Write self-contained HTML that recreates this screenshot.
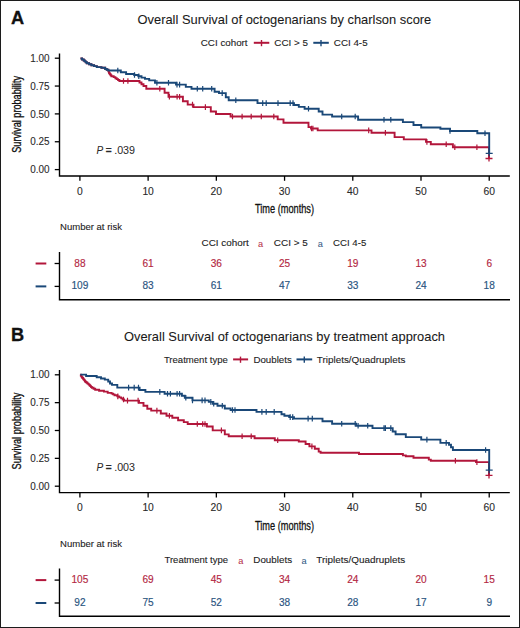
<!DOCTYPE html>
<html><head><meta charset="utf-8"><title>Overall Survival of octogenarians</title>
<style>
html,body{margin:0;padding:0;background:#fff;}
body{width:520px;height:628px;overflow:hidden;}
svg{display:block;font-family:"Liberation Sans", sans-serif;}
</style></head><body>
<svg width="520" height="628" viewBox="0 0 520 628">
<rect x="0" y="0" width="520" height="628" fill="#fff"/>
<text x="11" y="24.4" font-size="18.2" text-anchor="start" fill="#111" font-weight="bold" stroke="#111" stroke-width="0.3">A</text>
<text x="137.5" y="24.3" font-size="13.2" text-anchor="start" fill="#1a1a1a"  textLength="293.8" lengthAdjust="spacingAndGlyphs" stroke="#1a1a1a" stroke-width="0.08">Overall Survival of octogenarians by charlson score</text>
<text x="200.8" y="46.2" font-size="9.4" text-anchor="start" fill="#222"  textLength="46.8" lengthAdjust="spacingAndGlyphs" stroke="#222" stroke-width="0.1">CCI cohort</text>
<path d="M253.8 42.8 H269.3" stroke="#B2163B" stroke-width="2"/>
<path d="M261.5 40 V46.2" stroke="#B2163B" stroke-width="1.4"/>
<text x="274.3" y="46.2" font-size="9.4" text-anchor="start" fill="#222"  textLength="33.8" lengthAdjust="spacingAndGlyphs" stroke="#222" stroke-width="0.1">CCI &gt; 5</text>
<path d="M313.3 42.8 H328.8" stroke="#1A4878" stroke-width="2"/>
<path d="M321 40 V46.2" stroke="#1A4878" stroke-width="1.4"/>
<text x="333.8" y="46.2" font-size="9.4" text-anchor="start" fill="#222"  textLength="33.8" lengthAdjust="spacingAndGlyphs" stroke="#222" stroke-width="0.1">CCI 4-5</text>
<path d="M59.5 53.4 V176 H509.8" stroke="#000" stroke-width="1.4" fill="none"/>
<path d="M54.8 58.2 H59.5" stroke="#000" stroke-width="1.3"/>
<text x="49.5" y="61.8" font-size="10.0" text-anchor="end" fill="#2a2a2a"  textLength="19.3" lengthAdjust="spacingAndGlyphs" stroke="#2a2a2a" stroke-width="0.1">1.00</text>
<path d="M54.8 86.05 H59.5" stroke="#000" stroke-width="1.3"/>
<text x="49.5" y="89.65" font-size="10.0" text-anchor="end" fill="#2a2a2a"  textLength="19.3" lengthAdjust="spacingAndGlyphs" stroke="#2a2a2a" stroke-width="0.1">0.75</text>
<path d="M54.8 113.9 H59.5" stroke="#000" stroke-width="1.3"/>
<text x="49.5" y="117.5" font-size="10.0" text-anchor="end" fill="#2a2a2a"  textLength="19.3" lengthAdjust="spacingAndGlyphs" stroke="#2a2a2a" stroke-width="0.1">0.50</text>
<path d="M54.8 141.75 H59.5" stroke="#000" stroke-width="1.3"/>
<text x="49.5" y="145.35" font-size="10.0" text-anchor="end" fill="#2a2a2a"  textLength="19.3" lengthAdjust="spacingAndGlyphs" stroke="#2a2a2a" stroke-width="0.1">0.25</text>
<path d="M54.8 169.6 H59.5" stroke="#000" stroke-width="1.3"/>
<text x="49.5" y="173.2" font-size="10.0" text-anchor="end" fill="#2a2a2a"  textLength="19.3" lengthAdjust="spacingAndGlyphs" stroke="#2a2a2a" stroke-width="0.1">0.00</text>
<path d="M79.9 176 V180.8" stroke="#000" stroke-width="1.3"/>
<text transform="translate(79.9 194.7) scale(1.03 1)" x="0" y="0" font-size="10.0" text-anchor="middle" fill="#2a2a2a" stroke="#2a2a2a" stroke-width="0.1">0</text>
<path d="M148.12 176 V180.8" stroke="#000" stroke-width="1.3"/>
<text transform="translate(148.12 194.7) scale(1.03 1)" x="0" y="0" font-size="10.0" text-anchor="middle" fill="#2a2a2a" stroke="#2a2a2a" stroke-width="0.1">10</text>
<path d="M216.34 176 V180.8" stroke="#000" stroke-width="1.3"/>
<text transform="translate(216.34 194.7) scale(1.03 1)" x="0" y="0" font-size="10.0" text-anchor="middle" fill="#2a2a2a" stroke="#2a2a2a" stroke-width="0.1">20</text>
<path d="M284.56 176 V180.8" stroke="#000" stroke-width="1.3"/>
<text transform="translate(284.56 194.7) scale(1.03 1)" x="0" y="0" font-size="10.0" text-anchor="middle" fill="#2a2a2a" stroke="#2a2a2a" stroke-width="0.1">30</text>
<path d="M352.78 176 V180.8" stroke="#000" stroke-width="1.3"/>
<text transform="translate(352.78 194.7) scale(1.03 1)" x="0" y="0" font-size="10.0" text-anchor="middle" fill="#2a2a2a" stroke="#2a2a2a" stroke-width="0.1">40</text>
<path d="M421 176 V180.8" stroke="#000" stroke-width="1.3"/>
<text transform="translate(421 194.7) scale(1.03 1)" x="0" y="0" font-size="10.0" text-anchor="middle" fill="#2a2a2a" stroke="#2a2a2a" stroke-width="0.1">50</text>
<path d="M489.22 176 V180.8" stroke="#000" stroke-width="1.3"/>
<text transform="translate(489.22 194.7) scale(1.03 1)" x="0" y="0" font-size="10.0" text-anchor="middle" fill="#2a2a2a" stroke="#2a2a2a" stroke-width="0.1">60</text>
<text x="0" y="0" transform="translate(21.0 114.4) rotate(-90)" font-size="12.2" text-anchor="middle" fill="#111" stroke="#111" stroke-width="0.3" textLength="76.8" lengthAdjust="spacingAndGlyphs">Survival probability</text>
<text x="284.5" y="213" font-size="12.8" text-anchor="middle" fill="#111" stroke="#111" stroke-width="0.3" textLength="59" lengthAdjust="spacingAndGlyphs">Time (months)</text>
<text x="96.6" y="154.2" font-size="10.0" fill="#2a2a2a" stroke="#2a2a2a" stroke-width="0.05"><tspan font-style="italic">P</tspan><tspan dx="2.6" stroke-width="0.45">=</tspan><tspan dx="2.5" font-size="10.7">.039</tspan></text>
<path d="M80.5 58.5 H82.1 V59.5 H83.7 V60.5 H84.73 V61.4 H85.77 V62.3 H86.8 V63.2 H89.1 V64.2 H91.4 V65.2 H94.1 V66.15 H96.8 V67.1 H101.4 V67.8 H105.2 V69 H106.75 V69.75 H108.3 V70.5 H108.57 V71.4 H108.83 V72.3 H109.1 V73.2 H109.87 V74.23 H110.63 V75.27 H111.4 V76.3 H113.7 V77.1 H115.4 V78.2 H116.73 V79.13 H118.07 V80.07 H119.4 V81 H139.5 V82.5 H141.5 V84.2 H143.5 V86 H146.3 V88.8 H164.6 V92.7 H168.5 V96.7 H182.9 V101.3 H187.7 V104.6 H193.5 V107.1 H210.8 V111.5 H216 V114 H230.6 V116.5 H277.7 V119.4 H283.5 V122.7 H308.5 V127.1 H311 V128.5 H317.7 V130.4 H371.5 V132.7 H394.6 V137.1 H403.8 V139.4 H426 V141.9 H430.8 V144.2 H452.9 V147.2 H489 V158.5" stroke="#B2163B" stroke-width="1.9" fill="none" stroke-linejoin="miter"/>
<path d="M123.5 78.2 V83.8 M127.9 78.2 V83.8 M159.8 86 V91.6 M169.4 93.9 V99.5 M177.1 93.9 V99.5 M179.6 93.9 V99.5 M192.5 101.8 V107.4 M205.4 104.3 V109.9 M232.5 113.7 V119.3 M242.1 113.7 V119.3 M251.2 113.7 V119.3 M261.3 113.7 V119.3 M273.8 113.7 V119.3 M311.5 125.7 V131.3 M312.9 125.7 V131.3 M368.7 127.6 V133.2 M385.4 129.9 V135.5 M426.9 139.1 V144.7 M446.2 141.4 V147 M454.8 144.4 V150 M476.9 144.4 V150 " stroke="#B2163B" stroke-width="1.2" fill="none"/>
<path d="M485.5 158.5 H492.5 M489 155.5 V161.5" stroke="#B2163B" stroke-width="1.3" fill="none"/>
<path d="M80.5 58.5 H82.1 V59.5 H83.7 V60.5 H84.73 V61.4 H85.77 V62.3 H86.8 V63.2 H89.1 V64.2 H91.4 V65.2 H94.1 V66.15 H96.8 V67.1 H101.4 V67.8 H105.2 V69 H106.75 V69.75 H108.3 V70.5 H120.8 V72.2 H126.1 V74 H134.2 V75 H138.3 V76.2 H141.5 V77.6 H145 V78.9 H149.2 V80.4 H155 V82.7 H176 V84.6 H185.8 V86.9 H191.5 V88.8 H214.6 V91.7 H219 V93.1 H225.8 V97.3 H228.7 V100.2 H257.5 V103.1 H294 V105 H298.8 V106.9 H304.6 V108.8 H318.7 V111.5 H322.5 V114.6 H332.1 V116.5 H358.1 V119.8 H402.9 V122.1 H413.5 V125 H421.2 V127.5 H440.4 V128.8 H450 V131 H477.3 V133.2 H489.2 V153.3" stroke="#1A4878" stroke-width="1.9" fill="none" stroke-linejoin="miter"/>
<path d="M117.8 67.7 V73.3 M134.5 72.2 V77.8 M138.8 73.4 V79 M156.9 79.9 V85.5 M168.5 79.9 V85.5 M177 81.8 V87.4 M179.6 81.8 V87.4 M197.3 86 V91.6 M202.7 86 V91.6 M211.7 86 V91.6 M222.2 90.3 V95.9 M235.8 97.4 V103 M262.7 100.3 V105.9 M266.2 100.3 V105.9 M278 100.3 V105.9 M290.2 100.3 V105.9 M293 100.3 V105.9 M308.5 106 V111.6 M341.7 113.7 V119.3 M355.2 113.7 V119.3 M384 117 V122.6 M390.8 117 V122.6 M450 128.2 V133.8 M485 130.4 V136 " stroke="#1A4878" stroke-width="1.2" fill="none"/>
<path d="M485.7 153.3 H492.7 M489.2 150.3 V156.3" stroke="#1A4878" stroke-width="1.3" fill="none"/>
<text x="60" y="230.1" font-size="9.3" text-anchor="start" fill="#222"  textLength="62" lengthAdjust="spacingAndGlyphs" stroke="#222" stroke-width="0.1">Number at risk</text>
<text x="201.6" y="246.4" font-size="9.4" text-anchor="start" fill="#222"  textLength="47.2" lengthAdjust="spacingAndGlyphs" stroke="#222" stroke-width="0.1">CCI cohort</text>
<text x="258.1" y="247" font-size="9.2" text-anchor="start" fill="#B32843" >a</text>
<text x="273.8" y="246.4" font-size="9.4" text-anchor="start" fill="#222"  textLength="34" lengthAdjust="spacingAndGlyphs" stroke="#222" stroke-width="0.1">CCI &gt; 5</text>
<text x="317.7" y="247" font-size="9.2" text-anchor="start" fill="#2A5480" >a</text>
<text x="333.1" y="246.4" font-size="9.4" text-anchor="start" fill="#222"  textLength="33.2" lengthAdjust="spacingAndGlyphs" stroke="#222" stroke-width="0.1">CCI 4-5</text>
<path d="M59.5 252 V299.7 H510" stroke="#000" stroke-width="1.4" fill="none"/>
<path d="M54.6 263.5 H59.5" stroke="#000" stroke-width="1.3"/>
<path d="M35.6 263.5 H46.3" stroke="#B2163B" stroke-width="2"/>
<path d="M54.6 286.4 H59.5" stroke="#000" stroke-width="1.3"/>
<path d="M35.6 286.4 H46.3" stroke="#1A4878" stroke-width="2"/>
<text transform="translate(79.9 266.8) scale(1.0 1)" x="0" y="0" font-size="10.1" text-anchor="middle" fill="#B32843" stroke="#B32843" stroke-width="0.15">88</text>
<text transform="translate(79.9 289.4) scale(1.0 1)" x="0" y="0" font-size="10.1" text-anchor="middle" fill="#2A5480" stroke="#2A5480" stroke-width="0.15">109</text>
<text transform="translate(148.12 266.8) scale(1.0 1)" x="0" y="0" font-size="10.1" text-anchor="middle" fill="#B32843" stroke="#B32843" stroke-width="0.15">61</text>
<text transform="translate(148.12 289.4) scale(1.0 1)" x="0" y="0" font-size="10.1" text-anchor="middle" fill="#2A5480" stroke="#2A5480" stroke-width="0.15">83</text>
<text transform="translate(216.34 266.8) scale(1.0 1)" x="0" y="0" font-size="10.1" text-anchor="middle" fill="#B32843" stroke="#B32843" stroke-width="0.15">36</text>
<text transform="translate(216.34 289.4) scale(1.0 1)" x="0" y="0" font-size="10.1" text-anchor="middle" fill="#2A5480" stroke="#2A5480" stroke-width="0.15">61</text>
<text transform="translate(284.56 266.8) scale(1.0 1)" x="0" y="0" font-size="10.1" text-anchor="middle" fill="#B32843" stroke="#B32843" stroke-width="0.15">25</text>
<text transform="translate(284.56 289.4) scale(1.0 1)" x="0" y="0" font-size="10.1" text-anchor="middle" fill="#2A5480" stroke="#2A5480" stroke-width="0.15">47</text>
<text transform="translate(352.78 266.8) scale(1.0 1)" x="0" y="0" font-size="10.1" text-anchor="middle" fill="#B32843" stroke="#B32843" stroke-width="0.15">19</text>
<text transform="translate(352.78 289.4) scale(1.0 1)" x="0" y="0" font-size="10.1" text-anchor="middle" fill="#2A5480" stroke="#2A5480" stroke-width="0.15">33</text>
<text transform="translate(421 266.8) scale(1.0 1)" x="0" y="0" font-size="10.1" text-anchor="middle" fill="#B32843" stroke="#B32843" stroke-width="0.15">13</text>
<text transform="translate(421 289.4) scale(1.0 1)" x="0" y="0" font-size="10.1" text-anchor="middle" fill="#2A5480" stroke="#2A5480" stroke-width="0.15">24</text>
<text transform="translate(489.22 266.8) scale(1.0 1)" x="0" y="0" font-size="10.1" text-anchor="middle" fill="#B32843" stroke="#B32843" stroke-width="0.15">6</text>
<text transform="translate(489.22 289.4) scale(1.0 1)" x="0" y="0" font-size="10.1" text-anchor="middle" fill="#2A5480" stroke="#2A5480" stroke-width="0.15">18</text>
<text x="11" y="341" font-size="18.2" text-anchor="start" fill="#111" font-weight="bold" stroke="#111" stroke-width="0.3">B</text>
<text x="124" y="340.9" font-size="13.2" text-anchor="start" fill="#1a1a1a"  textLength="321" lengthAdjust="spacingAndGlyphs" stroke="#1a1a1a" stroke-width="0.08">Overall Survival of octogenarians by treatment approach</text>
<text x="163.9" y="362.8" font-size="9.4" text-anchor="start" fill="#222"  textLength="63.9" lengthAdjust="spacingAndGlyphs" stroke="#222" stroke-width="0.1">Treatment type</text>
<path d="M233.1 359.4 H248.1" stroke="#B2163B" stroke-width="2"/>
<path d="M240.5 356.6 V362.8" stroke="#B2163B" stroke-width="1.4"/>
<text x="253.4" y="362.8" font-size="9.4" text-anchor="start" fill="#222"  textLength="38.5" lengthAdjust="spacingAndGlyphs" stroke="#222" stroke-width="0.1">Doublets</text>
<path d="M296.5 359.4 H312.2" stroke="#1A4878" stroke-width="2"/>
<path d="M304.3 356.6 V362.8" stroke="#1A4878" stroke-width="1.4"/>
<text x="316.8" y="362.8" font-size="9.4" text-anchor="start" fill="#222"  textLength="88.6" lengthAdjust="spacingAndGlyphs" stroke="#222" stroke-width="0.1">Triplets/Quadruplets</text>
<path d="M59.5 370 V492.6 H509.8" stroke="#000" stroke-width="1.4" fill="none"/>
<path d="M54.8 374.8 H59.5" stroke="#000" stroke-width="1.3"/>
<text x="49.5" y="378.4" font-size="10.0" text-anchor="end" fill="#2a2a2a"  textLength="19.3" lengthAdjust="spacingAndGlyphs" stroke="#2a2a2a" stroke-width="0.1">1.00</text>
<path d="M54.8 402.65 H59.5" stroke="#000" stroke-width="1.3"/>
<text x="49.5" y="406.25" font-size="10.0" text-anchor="end" fill="#2a2a2a"  textLength="19.3" lengthAdjust="spacingAndGlyphs" stroke="#2a2a2a" stroke-width="0.1">0.75</text>
<path d="M54.8 430.5 H59.5" stroke="#000" stroke-width="1.3"/>
<text x="49.5" y="434.1" font-size="10.0" text-anchor="end" fill="#2a2a2a"  textLength="19.3" lengthAdjust="spacingAndGlyphs" stroke="#2a2a2a" stroke-width="0.1">0.50</text>
<path d="M54.8 458.35 H59.5" stroke="#000" stroke-width="1.3"/>
<text x="49.5" y="461.95" font-size="10.0" text-anchor="end" fill="#2a2a2a"  textLength="19.3" lengthAdjust="spacingAndGlyphs" stroke="#2a2a2a" stroke-width="0.1">0.25</text>
<path d="M54.8 486.2 H59.5" stroke="#000" stroke-width="1.3"/>
<text x="49.5" y="489.8" font-size="10.0" text-anchor="end" fill="#2a2a2a"  textLength="19.3" lengthAdjust="spacingAndGlyphs" stroke="#2a2a2a" stroke-width="0.1">0.00</text>
<path d="M79.9 492.6 V497.4" stroke="#000" stroke-width="1.3"/>
<text transform="translate(79.9 511.3) scale(1.03 1)" x="0" y="0" font-size="10.0" text-anchor="middle" fill="#2a2a2a" stroke="#2a2a2a" stroke-width="0.1">0</text>
<path d="M148.12 492.6 V497.4" stroke="#000" stroke-width="1.3"/>
<text transform="translate(148.12 511.3) scale(1.03 1)" x="0" y="0" font-size="10.0" text-anchor="middle" fill="#2a2a2a" stroke="#2a2a2a" stroke-width="0.1">10</text>
<path d="M216.34 492.6 V497.4" stroke="#000" stroke-width="1.3"/>
<text transform="translate(216.34 511.3) scale(1.03 1)" x="0" y="0" font-size="10.0" text-anchor="middle" fill="#2a2a2a" stroke="#2a2a2a" stroke-width="0.1">20</text>
<path d="M284.56 492.6 V497.4" stroke="#000" stroke-width="1.3"/>
<text transform="translate(284.56 511.3) scale(1.03 1)" x="0" y="0" font-size="10.0" text-anchor="middle" fill="#2a2a2a" stroke="#2a2a2a" stroke-width="0.1">30</text>
<path d="M352.78 492.6 V497.4" stroke="#000" stroke-width="1.3"/>
<text transform="translate(352.78 511.3) scale(1.03 1)" x="0" y="0" font-size="10.0" text-anchor="middle" fill="#2a2a2a" stroke="#2a2a2a" stroke-width="0.1">40</text>
<path d="M421 492.6 V497.4" stroke="#000" stroke-width="1.3"/>
<text transform="translate(421 511.3) scale(1.03 1)" x="0" y="0" font-size="10.0" text-anchor="middle" fill="#2a2a2a" stroke="#2a2a2a" stroke-width="0.1">50</text>
<path d="M489.22 492.6 V497.4" stroke="#000" stroke-width="1.3"/>
<text transform="translate(489.22 511.3) scale(1.03 1)" x="0" y="0" font-size="10.0" text-anchor="middle" fill="#2a2a2a" stroke="#2a2a2a" stroke-width="0.1">60</text>
<text x="0" y="0" transform="translate(21.0 431) rotate(-90)" font-size="12.2" text-anchor="middle" fill="#111" stroke="#111" stroke-width="0.3" textLength="76.8" lengthAdjust="spacingAndGlyphs">Survival probability</text>
<text x="284.5" y="529.6" font-size="12.8" text-anchor="middle" fill="#111" stroke="#111" stroke-width="0.3" textLength="59" lengthAdjust="spacingAndGlyphs">Time (months)</text>
<text x="96.6" y="470.8" font-size="10.0" fill="#2a2a2a" stroke="#2a2a2a" stroke-width="0.05"><tspan font-style="italic">P</tspan><tspan dx="2.6" stroke-width="0.45">=</tspan><tspan dx="2.5" font-size="10.7">.003</tspan></text>
<path d="M80.3 374.6 H80.8 V375.47 H81.3 V376.33 H81.8 V377.2 H82.43 V378 H83.07 V378.8 H83.7 V379.6 H84.33 V380.4 H84.97 V381.2 H85.6 V382 H86.57 V382.8 H87.53 V383.6 H88.5 V384.4 H89.35 V385.25 H90.2 V386.1 H91.05 V386.95 H91.9 V387.8 H93.55 V388.75 H95.2 V389.7 H99.1 V390.7 H103.9 V391.6 H107.7 V392.9 H111.6 V393.6 H113.05 V394.4 H114.5 V395.2 H117.3 V396.4 H119.25 V397.4 H121.2 V398.4 H122.65 V399.5 H124.1 V400.6 H139 V402.9 H143.5 V405.8 H147.3 V408.7 H151.2 V410.6 H160.8 V413.5 H166.5 V415.8 H172.3 V417.7 H178.1 V420.2 H183.8 V422.1 H187.7 V424 H206.9 V426.5 H212.7 V430.4 H224.8 V434.4 H228.7 V436.3 H254.6 V438.3 H274.8 V440.2 H298.8 V441.5 H305.6 V444 H309.4 V446.4 H314.8 V448.8 H318.7 V451.6 H320.6 V452.7 H359 V454 H402.9 V455.4 H405.8 V456.3 H413.5 V457.7 H428.8 V459.6 H430.8 V460.8 H476 V462.1 H489 V475.4" stroke="#B2163B" stroke-width="1.9" fill="none" stroke-linejoin="miter"/>
<path d="M117.8 393.6 V399.2 M123.5 396.7 V402.3 M127.5 397.8 V403.4 M138.1 397.8 V403.4 M156.9 407.8 V413.4 M169.4 413 V418.6 M197.3 421.2 V426.8 M202.7 421.2 V426.8 M205 421.2 V426.8 M221.4 427.6 V433.2 M242.1 433.5 V439.1 M251.2 433.5 V439.1 M277.7 437.4 V443 M311.9 443.6 V449.2 M455.4 458 V463.6 M476.9 459.3 V464.9 " stroke="#B2163B" stroke-width="1.2" fill="none"/>
<path d="M485.5 475.4 H492.5 M489 472.4 V478.4" stroke="#B2163B" stroke-width="1.3" fill="none"/>
<path d="M80.3 374.6 H86.1 V376 H96.7 V377.2 H101 V378.5 H104.8 V379.6 H108.2 V381.5 H110 V383.5 H112 V384.9 H117.3 V387.6 H139.6 V390 H145.4 V391.9 H164.6 V393.7 H181.9 V395.8 H184.8 V397.7 H192.5 V400.4 H208.8 V401.9 H212.7 V403.8 H217.5 V405.8 H224.8 V408.5 H230.6 V410 H256.5 V411.9 H281.5 V414.2 H284.4 V415.8 H289.2 V417.1 H294 V418.6 H322.5 V421.3 H332.1 V423.7 H356.2 V425.8 H372.5 V428.1 H392.7 V431.5 H395.6 V434.2 H405.8 V437.1 H421.2 V439.6 H440.4 V442.9 H449 V444.8 H451 V447.3 H452.9 V450 H489.2 V470.2" stroke="#1A4878" stroke-width="1.9" fill="none" stroke-linejoin="miter"/>
<path d="M128.6 384.8 V390.4 M134.2 384.8 V390.4 M138.5 384.8 V390.4 M159.8 389.1 V394.7 M167.5 390.9 V396.5 M170.4 390.9 V396.5 M177.1 390.9 V396.5 M179.6 390.9 V396.5 M185.8 394.9 V400.5 M192.5 397.6 V403.2 M202.1 397.6 V403.2 M205 397.6 V403.2 M210.8 399.1 V404.7 M213.7 401 V406.6 M222.3 403 V408.6 M232.5 407.2 V412.8 M235 407.2 V412.8 M261.9 409.1 V414.7 M266.2 409.1 V414.7 M274.2 409.1 V414.7 M290.2 414.3 V419.9 M292.7 414.3 V419.9 M308.1 415.8 V421.4 M312.3 415.8 V421.4 M341.7 420.9 V426.5 M355.2 420.9 V426.5 M358.1 423 V428.6 M367.7 423 V428.6 M384 425.3 V430.9 M385.4 425.3 V430.9 M390.8 425.3 V430.9 M426.9 436.8 V442.4 M446.2 440.1 V445.7 M485.6 447.2 V452.8 " stroke="#1A4878" stroke-width="1.2" fill="none"/>
<path d="M485.7 470.2 H492.7 M489.2 467.2 V473.2" stroke="#1A4878" stroke-width="1.3" fill="none"/>
<text x="60" y="546.7" font-size="9.3" text-anchor="start" fill="#222"  textLength="62" lengthAdjust="spacingAndGlyphs" stroke="#222" stroke-width="0.1">Number at risk</text>
<text x="164.5" y="563" font-size="9.4" text-anchor="start" fill="#222"  textLength="63.6" lengthAdjust="spacingAndGlyphs" stroke="#222" stroke-width="0.1">Treatment type</text>
<text x="238.3" y="563.6" font-size="9.2" text-anchor="start" fill="#B32843" >a</text>
<text x="253.3" y="563" font-size="9.4" text-anchor="start" fill="#222"  textLength="38.8" lengthAdjust="spacingAndGlyphs" stroke="#222" stroke-width="0.1">Doublets</text>
<text x="301.5" y="563.6" font-size="9.2" text-anchor="start" fill="#2A5480" >a</text>
<text x="316.3" y="563" font-size="9.4" text-anchor="start" fill="#222"  textLength="88.9" lengthAdjust="spacingAndGlyphs" stroke="#222" stroke-width="0.1">Triplets/Quadruplets</text>
<path d="M59.5 568.6 V616.3 H510" stroke="#000" stroke-width="1.4" fill="none"/>
<path d="M54.6 580.1 H59.5" stroke="#000" stroke-width="1.3"/>
<path d="M35.6 580.1 H46.3" stroke="#B2163B" stroke-width="2"/>
<path d="M54.6 603 H59.5" stroke="#000" stroke-width="1.3"/>
<path d="M35.6 603 H46.3" stroke="#1A4878" stroke-width="2"/>
<text transform="translate(79.9 583.4) scale(1.0 1)" x="0" y="0" font-size="10.1" text-anchor="middle" fill="#B32843" stroke="#B32843" stroke-width="0.15">105</text>
<text transform="translate(79.9 606) scale(1.0 1)" x="0" y="0" font-size="10.1" text-anchor="middle" fill="#2A5480" stroke="#2A5480" stroke-width="0.15">92</text>
<text transform="translate(148.12 583.4) scale(1.0 1)" x="0" y="0" font-size="10.1" text-anchor="middle" fill="#B32843" stroke="#B32843" stroke-width="0.15">69</text>
<text transform="translate(148.12 606) scale(1.0 1)" x="0" y="0" font-size="10.1" text-anchor="middle" fill="#2A5480" stroke="#2A5480" stroke-width="0.15">75</text>
<text transform="translate(216.34 583.4) scale(1.0 1)" x="0" y="0" font-size="10.1" text-anchor="middle" fill="#B32843" stroke="#B32843" stroke-width="0.15">45</text>
<text transform="translate(216.34 606) scale(1.0 1)" x="0" y="0" font-size="10.1" text-anchor="middle" fill="#2A5480" stroke="#2A5480" stroke-width="0.15">52</text>
<text transform="translate(284.56 583.4) scale(1.0 1)" x="0" y="0" font-size="10.1" text-anchor="middle" fill="#B32843" stroke="#B32843" stroke-width="0.15">34</text>
<text transform="translate(284.56 606) scale(1.0 1)" x="0" y="0" font-size="10.1" text-anchor="middle" fill="#2A5480" stroke="#2A5480" stroke-width="0.15">38</text>
<text transform="translate(352.78 583.4) scale(1.0 1)" x="0" y="0" font-size="10.1" text-anchor="middle" fill="#B32843" stroke="#B32843" stroke-width="0.15">24</text>
<text transform="translate(352.78 606) scale(1.0 1)" x="0" y="0" font-size="10.1" text-anchor="middle" fill="#2A5480" stroke="#2A5480" stroke-width="0.15">28</text>
<text transform="translate(421 583.4) scale(1.0 1)" x="0" y="0" font-size="10.1" text-anchor="middle" fill="#B32843" stroke="#B32843" stroke-width="0.15">20</text>
<text transform="translate(421 606) scale(1.0 1)" x="0" y="0" font-size="10.1" text-anchor="middle" fill="#2A5480" stroke="#2A5480" stroke-width="0.15">17</text>
<text transform="translate(489.22 583.4) scale(1.0 1)" x="0" y="0" font-size="10.1" text-anchor="middle" fill="#B32843" stroke="#B32843" stroke-width="0.15">15</text>
<text transform="translate(489.22 606) scale(1.0 1)" x="0" y="0" font-size="10.1" text-anchor="middle" fill="#2A5480" stroke="#2A5480" stroke-width="0.15">9</text>
<rect x="0.5" y="0.5" width="519" height="627" fill="none" stroke="#1c1c1c" stroke-width="1"/>
</svg>
</body></html>
